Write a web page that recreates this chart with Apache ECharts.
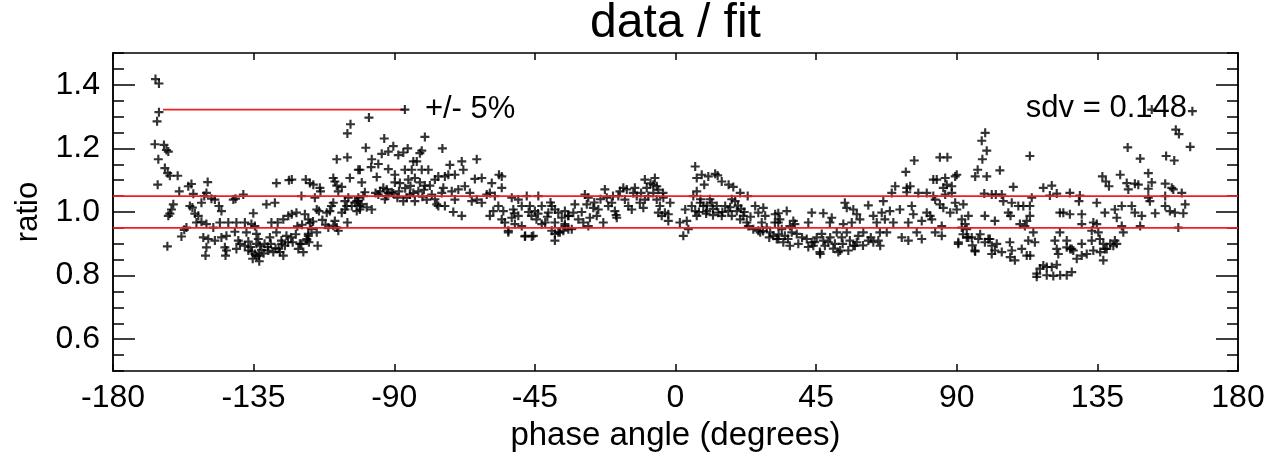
<!DOCTYPE html>
<html>
<head>
<meta charset="utf-8">
<script src="https://cdn.jsdelivr.net/npm/echarts@6/dist/echarts.min.js"></script>
<style>
html,body{margin:0;padding:0;background:#fff;}
#chart{width:1269px;height:457px;}
</style>
</head>
<body>
<div id="chart"></div>
<script>
// ---- data (phase angle in degrees, ratio) ----
const xTicks = [-180, -135, -90, -45, 0, 45, 90, 135, 180];
const yLabels = [0.6, 0.8, 1.0, 1.2, 1.4];
const bandLevels = [1.05, 0.95];
const legendLine = [[-164, 1.322], [-86.6, 1.322]];
const titleText = 'data / fit';
const xName = 'phase angle (degrees)';
const yName = 'ratio';
const legendText = '+/- 5%';
const sdvText = 'sdv = 0.148';

const seg1 = [[-166.4,1.418],[-165.3,1.404],[-165.3,1.314],[-165.9,1.285],[-166.6,1.213],[-163.7,1.211],[-162.9,1.195],[-162.3,1.19],[-165.5,1.166],[-163.4,1.138],[-162.5,1.122],[-161.8,1.114],[-159.3,1.114],[-165.7,1.086],[-158.8,1.065],[-155.9,1.081],[-154.9,1.088],[-154.3,1.057],[-149.7,1.094],[-150.1,1.06],[-150.8,1.05],[-151.7,1.029],[-148.5,1.042],[-147.4,1.039],[-160.7,1.024],[-161.3,1.008],[-161.8,0.995],[-162.3,0.988],[-155.4,1.019],[-154.6,1.014],[-153.8,0.995],[-152.7,0.988],[-146.1,1.019],[-145.3,1.003],[-141.5,1.039],[-140.8,1.042],[-138.3,1.055],[-135.1,0.996],[-153.3,0.967],[-151.7,0.969],[-150.1,0.962],[-156.5,0.951],[-157.2,0.944],[-158.1,0.923],[-162.6,0.892],[-145.8,0.967],[-143.1,0.967],[-140.5,0.967],[-137.8,0.967],[-135.7,0.962],[-134.6,0.956],[-147.9,0.951],[-151.1,0.92],[-149.5,0.915],[-147.4,0.91],[-145.3,0.92],[-143.7,0.925],[-141,0.938],[-150.1,0.889],[-150.4,0.863],[-144.2,0.889],[-143.7,0.879],[-144,0.863],[-139.9,0.91],[-139.4,0.9],[-140.5,0.884],[-137.8,0.894],[-136.7,0.907],[-137.3,0.936],[-134.1,0.931],[-133.5,0.915],[-134.1,0.9],[-136.7,0.879],[-134.6,0.868],[-133,0.894],[-133.3,0.863],[-135.3,0.853],[-133.2,0.845],[-134,0.861],[-130.3,0.879],[-128.7,0.874],[-128,0.886],[-126.6,0.874],[-125.5,0.863],[-125,0.894],[-126.1,0.91],[-124.5,0.925],[-127.7,0.936],[-129.3,0.967],[-127.3,0.967],[-125.5,0.977],[-123.9,0.988],[-122.8,0.993],[-121.3,0.998],[-130.9,1.024],[-128.2,1.029],[-127.7,1.091],[-123.7,1.1],[-122.8,1.102],[-119.7,1.05],[-118.6,0.993],[-117.5,0.977],[-117,0.965],[-116.5,0.946],[-117.5,0.925],[-118,0.91],[-117.3,0.905],[-114.8,0.936],[-114.5,0.894],[-119.7,0.9],[-120.7,0.884],[-119.1,0.874],[-118.3,1.102],[-117,1.091],[-115.9,1.086],[-113.8,1.076],[-113.6,1.065],[-115.4,1.045],[-114.8,1.008],[-114.1,1.003],[-111.6,0.998],[-110.6,1.003],[-109.5,1.029],[-110.1,1.019],[-109,0.972],[-108.4,0.951],[-111.1,0.951],[-107.9,0.941],[-106.8,0.998],[-105.8,1.008],[-105.2,1.019],[-105.8,1.034],[-104.7,1.045],[-103.6,1.019],[-102.6,1.029],[-101.5,1.034],[-101,1.008],[-105,0.967],[-109.5,1.107],[-109,1.096],[-108.4,1.083],[-106.8,1.079],[-107.9,1.065],[-104.2,1.107],[-108.4,1.166],[-105,1.172],[-105,1.247],[-104,1.276],[-101.5,1.133],[-131.5,0.9],[-129.8,0.92],[-122.5,0.905],[-121.5,0.93],[-120.2,0.9],[-118,0.915],[-117.5,0.931],[-109.5,0.957],[-136,0.89],[-135.5,0.875],[-132.5,0.88],[-131.8,0.87],[-130.5,0.89],[-129.5,0.9],[-127,0.885],[-126,0.9],[-124,0.905],[-123,0.92],[-121,0.955],[-119.5,0.96],[-116,0.97],[-113,0.975],[-112,0.96]];

const seg2 = [[-98.1,1.297],[-93.2,1.231],[-99.1,1.202],[-80.2,1.236],[-74.6,1.2],[-90.3,1.207],[-91.9,1.19],[-94,1.183],[-88.7,1.179],[-87.1,1.187],[-85.7,1.2],[-81.2,1.193],[-81.8,1.185],[-97.2,1.166],[-97.4,1.141],[-95.1,1.151],[-101,1.133],[-91.9,1.135],[-86.6,1.133],[-83.9,1.159],[-82.8,1.159],[-84.4,1.133],[-95.6,1.11],[-89.8,1.117],[-81.2,1.133],[-79.1,1.133],[-100.4,1.093],[-99.4,1.062],[-93.5,1.076],[-92.4,1.071],[-90.8,1.062],[-89.8,1.093],[-88.2,1.091],[-85.5,1.102],[-83.4,1.107],[-81.8,1.093],[-80.2,1.083],[-78.6,1.083],[-77,1.102],[-75.9,1.112],[-73.8,1.112],[-72.2,1.148],[-72.7,1.117],[-70.6,1.117],[-68.4,1.159],[-67.9,1.133],[-63.6,1.166],[-64.2,1.104],[-62,1.107],[-58.8,1.091],[-56.5,1.117],[-55.6,1.112],[-95.1,1.055],[-91.9,1.06],[-90.3,1.058],[-87.1,1.034],[-83.4,1.034],[-83.9,1.06],[-82.3,1.065],[-79.6,1.039],[-76.4,1.024],[-74.8,1.06],[-74.3,1.076],[-71.6,1.065],[-70.6,1.039],[-69.5,1.071],[-67.4,1.081],[-65.8,1.06],[-65.2,1.034],[-63.6,1.039],[-62,1.029],[-60.4,1.055],[-59.4,1.06],[-57.8,1.05],[-55.6,1.076],[-102,1.034],[-101,1.019],[-102,1.003],[-97.2,1.008],[-99.9,1.05],[-71.1,1.0],[-68.4,0.988],[-73.8,1.019],[-75.9,1.019],[-59.4,0.988],[-58.3,1.003],[-56.7,1.019],[-55.1,1.003],[-55.6,0.977],[-54.6,0.967],[-53.5,0.941],[-52.4,0.982],[-51.6,0.996],[-50.3,0.988],[-51.4,0.962],[-49.2,0.956],[-47.6,1.05],[-46.6,1.019],[-45,1.003],[-43.9,1.05],[-42.8,1.019],[-46.1,0.988],[-44.5,0.977],[-42.8,0.962],[-41.7,0.967],[-40.7,0.998],[-39.6,1.019],[-38.6,1.008],[-37.5,0.998],[-36.4,0.982],[-35.4,0.962],[-34.3,0.988],[-38.6,0.967],[-39.6,0.941],[-38.6,0.91],[-48.1,0.925],[-45.5,0.925],[-37,0.936],[-35.9,0.941],[-34.3,0.946],[-52.4,1.045],[-50.3,1.039],[-49.2,1.019],[-51.9,1.008],[-101.5,1.045],[-100.5,1.025],[-98.8,1.015],[-96,1.06],[-94.5,1.065],[-92.5,1.05],[-88.5,1.065],[-86.5,1.075],[-84.8,1.082],[-86,1.045],[-81,1.048],[-53.5,0.936],[-48.2,0.923],[-46,0.923],[-38.6,0.931],[-37.5,0.936],[-93,1.04],[-89,1.045],[-85,1.055],[-80.5,1.07],[-78,1.055],[-77,1.04],[-47,1.0],[-44,0.995],[-41,0.985],[-40,1.03]];

const seg3 = [[-35.4,1.003],[-34.3,0.988],[-35.4,0.956],[-33.2,0.946],[-32.2,1.024],[-32.7,0.998],[-31.1,0.977],[-29.5,0.967],[-29,1.055],[-27.9,1.045],[-28.4,1.024],[-27.4,0.982],[-27.9,0.956],[-26.3,1.013],[-24.7,1.008],[-25.2,0.988],[-23.1,0.967],[-22.6,1.071],[-22,1.045],[-21.5,1.019],[-20.4,1.029],[-19.4,1.003],[-18.8,0.982],[-18.3,1.05],[-17.8,1.065],[-16.7,1.076],[-15.6,1.071],[-16.2,1.039],[-15.1,1.019],[-14,1.008],[-13.5,1.06],[-13,1.076],[-12.4,1.05],[-11.4,1.029],[-10.3,1.013],[-9.8,1.102],[-9.2,1.076],[-8.7,1.05],[-7.1,1.086],[-6.6,1.107],[-6,1.081],[-7.1,1.06],[-6,1.039],[-5,1.019],[-5.5,0.998],[-4.4,0.988],[-3.4,0.998],[-2.3,0.993],[-1.7,1.029],[-2.3,0.972],[-3.9,1.045],[-9.8,1.039],[6.3,1.143],[6.8,1.107],[8.4,1.117],[10.5,1.112],[12.7,1.12],[14.8,1.096],[17,1.086],[18.5,1.079],[20.7,1.06],[23.1,1.05],[9.2,1.086],[6.8,1.065],[5.7,1.05],[3.1,1.008],[1.4,0.967],[3.6,0.972],[4.1,0.946],[2.5,0.925],[5.2,1.019],[6.3,1.003],[6.8,0.988],[7.9,1.029],[8.9,1.019],[10,1.003],[11.6,1.029],[13.2,1.019],[13.7,0.998],[14.8,0.988],[15.9,1.019],[16.9,1.003],[18,0.988],[19.1,1.034],[19.6,1.003],[20.7,0.977],[21.7,0.988],[22.8,0.967],[23.3,0.956],[24.9,0.946],[25.5,1.019],[26.5,0.998],[28.1,1.013],[28.7,0.988],[27.6,0.967],[29.2,0.951],[30.3,0.936],[31.3,0.925],[32.4,0.915],[31.9,0.993],[32.9,0.967],[26.5,0.941],[13.5,1.115],[11,1.04],[12,1.01],[17.5,1.015],[21,1.01],[24,0.985],[7.5,1.0],[9.8,0.995],[27.1,0.936],[-30,1.0],[-26,1.03],[-24,1.04],[-20,1.05],[-19,0.99],[-11,1.06],[-8,1.09],[-4,1.06],[-5.5,1.07],[8,1.04],[10,1.02],[12,0.99],[15,1.0],[18,1.04],[20,1.02],[22,1.0],[28,0.94],[30,0.92]];

const seg4 = [[99.1,1.249],[98,1.224],[99.6,1.193],[98.2,1.166],[96.7,1.133],[95.9,1.112],[99.6,1.112],[98.8,1.058],[76.4,1.162],[73.7,1.126],[84.6,1.172],[87,1.172],[82.5,1.102],[83.6,1.102],[86.3,1.107],[89.5,1.112],[90,1.117],[86.8,1.086],[88.4,1.081],[85.7,1.076],[70.3,1.081],[69.2,1.06],[74,1.076],[75.1,1.081],[74,1.062],[77.7,1.06],[80.4,1.06],[82.5,1.05],[86.3,1.055],[88.4,1.06],[83.1,1.039],[84.6,1.024],[85.7,1.013],[87.9,0.998],[89.5,1.029],[92.1,1.024],[90,1.008],[54.2,1.029],[54.8,1.013],[56.9,1.008],[58,0.993],[61.7,1.021],[66.5,1.034],[66,0.998],[68.6,1.003],[71.8,1.008],[75.6,1.019],[76.1,0.993],[80.4,0.998],[81.5,0.988],[82,0.977],[93.7,0.988],[99,0.988],[35.6,1.003],[32.9,0.996],[33.4,0.977],[31.8,0.967],[37.7,0.972],[38.2,0.962],[36.6,0.956],[42.5,0.967],[43.6,0.998],[47.3,0.996],[50,0.982],[49.4,0.967],[53.7,0.962],[56.4,0.967],[59,0.977],[63.3,0.988],[64.4,0.967],[67,0.977],[69.7,0.967],[74.5,0.967],[78.8,0.972],[85.2,0.956],[91.6,0.977],[92.7,0.962],[34,0.946],[35,0.925],[32.9,0.915],[37.2,0.936],[38.8,0.931],[39.3,0.9],[36.6,0.894],[42,0.915],[43.6,0.905],[45.2,0.92],[46.8,0.931],[47.3,0.91],[47.8,0.894],[46.2,0.874],[48.9,0.905],[51,0.9],[51.6,0.936],[53.2,0.92],[54.8,0.936],[55.8,0.91],[57.4,0.894],[55.3,0.879],[52.1,0.874],[58.5,0.925],[60.1,0.936],[61.7,0.91],[63.3,0.905],[64.9,0.91],[65.4,0.936],[67.6,0.936],[72.4,0.92],[74.5,0.91],[77.2,0.936],[78.8,0.915],[83.1,0.936],[85.2,0.925],[90.5,0.905],[93.2,0.92],[94.8,0.92],[95.9,0.876],[96.9,0.915],[99,0.905],[100.1,0.915],[91.6,0.951],[93.2,0.946],[44.1,0.894],[46.3,0.868],[52.7,0.879],[56.9,0.894],[65.5,0.894],[95.8,0.879],[90.5,0.9],[93.7,0.92],[33,0.93],[34.5,0.905],[36,0.915],[40.5,0.92],[42.5,0.89],[44.5,0.905],[49.5,0.92],[50.5,0.885],[53.5,0.9],[58,0.905],[60,0.895],[62.5,0.92],[92,0.93],[97.5,0.93],[95,0.895]];

const seg5 = [[152.4,1.322],[165.4,1.317],[160.1,1.259],[161.1,1.245],[164.7,1.205],[144.7,1.203],[148.7,1.168],[157,1.176],[159.6,1.162],[113.4,1.176],[103.8,1.131],[136.6,1.112],[137.7,1.096],[138.7,1.081],[142.3,1.117],[144.4,1.091],[144.9,1.071],[147,1.089],[148.1,1.086],[151.3,1.122],[152.4,1.093],[151.3,1.073],[156.7,1.089],[158.8,1.076],[162,1.06],[108.1,1.079],[117.7,1.076],[120.4,1.083],[119.8,1.052],[122,1.058],[126.2,1.06],[129.4,1.052],[129.1,1.034],[101.2,1.055],[102.5,1.055],[104.4,1.055],[104.9,1.034],[107.6,1.029],[109.7,1.019],[111.3,1.019],[113.4,1.019],[114,1.045],[113.4,0.988],[102.2,0.972],[106.5,0.998],[107.2,0.988],[110.2,0.962],[111.8,0.956],[112.4,0.972],[123,0.998],[124.1,0.998],[126.2,0.993],[130,0.993],[130,0.962],[134.8,1.029],[137.4,0.998],[140.6,1.008],[141.2,0.982],[142.8,1.019],[142.8,0.956],[146,1.019],[147,0.998],[148.7,0.956],[149.2,0.988],[151.3,1.045],[151.8,1.034],[153.5,0.996],[156.7,1.019],[158.2,1.003],[159.8,0.998],[162.5,0.996],[163.1,1.024],[156.7,1.05],[159.3,1.071],[160.9,0.951],[133.7,0.967],[134.8,0.962],[135.3,0.936],[133.2,0.941],[101.2,0.894],[102.8,0.9],[102.2,0.879],[107,0.905],[107.6,0.879],[110.8,0.884],[112.9,0.91],[114.5,0.936],[115,0.905],[112.4,0.863],[121.4,0.91],[123,0.936],[122,0.884],[125.2,0.91],[126.8,0.884],[130,0.9],[133.2,0.91],[135.8,0.915],[136.9,0.9],[137.4,0.884],[140.6,0.91],[143.3,0.936],[133.7,0.879],[115.6,0.806],[116.6,0.822],[117.7,0.832],[118.8,0.827],[120.4,0.827],[122,0.834],[115.6,0.796],[118.8,0.801],[120.9,0.799],[123.1,0.801],[125.2,0.801],[126.8,0.811],[122.5,0.868],[125.2,0.889],[126.3,0.884],[127.3,0.879],[128.4,0.853],[130,0.863],[131.6,0.868],[135.9,0.874],[136.9,0.848],[138,0.884],[139.1,0.9],[140.1,0.894],[141.2,0.9],[113.5,0.863],[108.6,0.848],[107.1,0.858],[104.4,0.874],[101.2,0.868],[100.6,0.915]];

const points = [].concat(seg1, seg2, seg3, seg4, seg5);

// ---- chart ----
const FONT = '"Liberation Sans", Arial, Helvetica, sans-serif';
const PLUS = 'path://M3.8,0H6.2V3.8H10V6.2H6.2V10H3.8V6.2H0V3.8H3.8Z';
const black = '#000';
const red = '#ee2020';

const chart = echarts.init(document.getElementById('chart'), null, {renderer: 'canvas'});

const axisLineStyle = {color: black, width: 1.5};
const baseX = {
  type: 'value', min: -180, max: 180, interval: 45,
  axisLine: {show: true, onZero: false, lineStyle: axisLineStyle},
  axisTick: {show: true, inside: true, length: 7, lineStyle: axisLineStyle},
  splitLine: {show: false}
};
const baseY = {
  type: 'value', min: 0.5, max: 1.5,
  axisLine: {show: true, onZero: false, lineStyle: axisLineStyle},
  axisLabel: {show: false},
  splitLine: {show: false}
};

const option = {
  animation: false,
  backgroundColor: '#fff',
  grid: {left: 113, right: 31, top: 53, bottom: 84},
  xAxis: [
    Object.assign({}, baseX, {
      position: 'bottom',
      axisLabel: {show: true, color: black, fontSize: 32, fontFamily: FONT, margin: 11},
      name: xName, nameLocation: 'middle', nameGap: 48,
      nameTextStyle: {color: black, fontSize: 33, fontFamily: FONT}
    }),
    Object.assign({}, baseX, {position: 'top', axisLabel: {show: false}})
  ],
  yAxis: [
    Object.assign({}, baseY, {
      position: 'left', interval: 0.05,
      axisTick: {show: true, inside: true, length: 11, lineStyle: axisLineStyle},
      name: yName, nameLocation: 'middle', nameGap: 69,
      nameTextStyle: {color: black, fontSize: 31, fontFamily: FONT}
    }),
    Object.assign({}, baseY, {
      position: 'left',
      axisTick: {show: true, inside: true, length: 22, lineStyle: axisLineStyle, customValues: yLabels},
      axisLabel: {show: true, color: black, fontSize: 32, fontFamily: FONT, margin: 13,
        customValues: yLabels, formatter: v => Number(v).toFixed(1)}
    }),
    Object.assign({}, baseY, {
      position: 'right', interval: 0.05,
      axisTick: {show: true, inside: true, length: 11, lineStyle: axisLineStyle}
    }),
    Object.assign({}, baseY, {
      position: 'right',
      axisTick: {show: true, inside: true, length: 22, lineStyle: axisLineStyle, customValues: yLabels}
    })
  ],
  series: [
    {
      type: 'scatter', data: points, symbol: PLUS, symbolSize: 9,
      itemStyle: {color: black}, silent: true, z: 3
    },
    ...bandLevels.map(v => ({
      type: 'line', data: [[-180, v], [180, v]], showSymbol: false, silent: true,
      lineStyle: {color: red, width: 1.6}, z: 4
    })),
    {
      type: 'line', data: legendLine, showSymbol: false, silent: true,
      lineStyle: {color: red, width: 1.6}, z: 4
    },
    {
      type: 'scatter', data: [legendLine[1]], symbol: PLUS, symbolSize: 9,
      itemStyle: {color: black}, silent: true, z: 5
    }
  ]
};
chart.setOption(option);

// ---- title and annotations, placed through the axes' own scales ----
const xPix = v => chart.convertToPixel({xAxisIndex: 0}, v);
const yPix = v => chart.convertToPixel({yAxisIndex: 0}, v);
const xLeft = xPix(-180), xRight = xPix(180);
function txt(text, x, y, size, align) {
  return {type: 'text', x: x, y: y, silent: true, z: 10,
    style: {text: text, fill: black, font: size + 'px ' + FONT, align: align, verticalAlign: 'middle'}};
}
chart.setOption({graphic: [
  txt(titleText, (xLeft + xRight) / 2, 24, 48, 'center'),
  txt(legendText, xPix(legendLine[1][0]) + 20, yPix(legendLine[1][1]), 31, 'left'),
  txt(sdvText, xRight - 51, yPix(legendLine[1][1]) - 1, 31, 'right')
]});
</script>
</body>
</html>
